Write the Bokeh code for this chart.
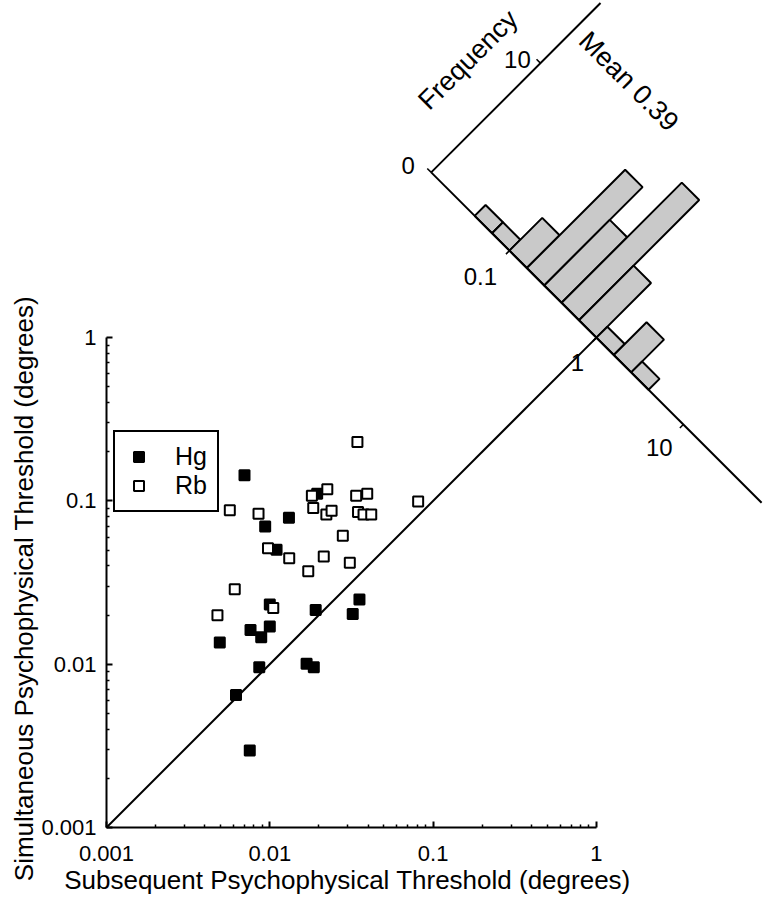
import numpy as np
from bokeh.plotting import figure
from bokeh.models import Range1d, Label, Legend, LegendItem, FixedTicker
from bokeh.embed import file_html
from bokeh.resources import INLINE

# ---------------- data ----------------
hg_x = [0.0070, 0.0195, 0.0131, 0.00937, 0.0110, 0.0354, 0.0322, 0.0191, 0.0100,
        0.00762, 0.00886, 0.0100, 0.00494, 0.00862, 0.0168, 0.0186, 0.00621, 0.00754]
hg_y = [0.1437, 0.1105, 0.0788, 0.0697, 0.0502, 0.0249, 0.0203, 0.0215, 0.0232,
        0.0162, 0.0146, 0.0170, 0.0136, 0.00958, 0.01006, 0.00958, 0.00648, 0.00296]

rb_x = [0.0344, 0.00569, 0.00853, 0.0181, 0.0225, 0.01845, 0.0222, 0.0239, 0.0338,
        0.0395, 0.0347, 0.0375, 0.0418, 0.0810, 0.0280, 0.00975, 0.01315, 0.0214,
        0.0309, 0.0172, 0.0061, 0.00478, 0.0105]
rb_y = [0.2295, 0.0877, 0.0834, 0.1076, 0.1179, 0.0905, 0.0826, 0.0870, 0.1076,
        0.1105, 0.0855, 0.0826, 0.0826, 0.0992, 0.0612, 0.0513, 0.0446, 0.0457,
        0.0418, 0.0371, 0.0288, 0.01995, 0.0221]

# histogram of log10(subsequent / simultaneous)
bin_edges = [-1.4, -1.2, -1.0, -0.8, -0.6, -0.4, -0.2, 0.0, 0.2, 0.4, 0.6]
bin_counts = [1, 1, 3, 9, 6, 11, 5, 1, 3, 1]
hist_axis_range = [-1.9, 1.9]
hist_tick_vals = [-1, 0, 1]
hist_tick_labels = ["0.1", "1", "10"]
freq_tick_vals = [0, 10]
freq_tick_labels = ["0", "10"]
freq_axis_max = 15.5
mean_label = "Mean 0.39"

axis_ticks = [0.001, 0.01, 0.1, 1]
axis_tick_labels = ["0.001", "0.01", "0.1", "1"]
minor_ticks = [m * 10.0 ** e for e in (-3, -2, -1) for m in range(2, 10)]

FONT = "Liberation Sans"

# ---------------- rotated histogram coordinate system ----------------
S = 1.065   # log-decades (x - y) per decade of ratio along histogram axis
K = 0.0669  # log-decades (each of x and y) per count along frequency axis


def hist_xy(u, c):
    lx = S * u / 2.0 + K * c
    ly = -S * u / 2.0 + K * c
    return 10.0 ** lx, 10.0 ** ly


p = figure(width=764, height=899, x_axis_type="log", y_axis_type="log",
           x_range=Range1d(10 ** -3.6491, 10 ** 1.0294),
           y_range=Range1d(10 ** -3.4409, 10 ** 2.0643),
           output_backend="svg", toolbar_location=None,
           min_border=0, min_border_left=0, min_border_right=0,
           min_border_top=0, min_border_bottom=0)
p.outline_line_color = None
p.grid.visible = False
p.background_fill_color = "white"
p.border_fill_color = "white"

for ax in (p.xaxis[0], p.yaxis[0]):
    ax.fixed_location = axis_ticks[0]
    ax.bounds = (axis_ticks[0], axis_ticks[-1])
    ax.ticker = FixedTicker(ticks=axis_ticks, minor_ticks=minor_ticks)
    ax.major_label_overrides = {t: l for t, l in zip(axis_ticks, axis_tick_labels)}
    ax.axis_line_width = 2
    ax.axis_line_color = "black"
    ax.major_tick_in = 6
    ax.major_tick_out = 0
    ax.minor_tick_in = 3
    ax.minor_tick_out = 0
    ax.major_tick_line_width = 2
    ax.minor_tick_line_width = 1.5
    ax.major_label_text_font = FONT
    ax.major_label_text_font_size = "22px"
    ax.major_label_text_color = "black"

p.xaxis[0].major_label_standoff = 18
p.yaxis[0].major_label_standoff = 10

# identity line
p.line([axis_ticks[0], axis_ticks[-1]], [axis_ticks[0], axis_ticks[-1]],
       line_color="black", line_width=2)

# histogram bars
bx, by = [], []
for i, n in enumerate(bin_counts):
    u0, u1 = bin_edges[i], bin_edges[i + 1]
    pts = [hist_xy(u0, 0), hist_xy(u0, n), hist_xy(u1, n), hist_xy(u1, 0)]
    bx.append([q[0] for q in pts])
    by.append([q[1] for q in pts])
p.patches(bx, by, fill_color="#c9c9c9", line_color="black", line_width=2)

# histogram axis
a0 = hist_xy(hist_axis_range[0], 0)
a1 = hist_xy(hist_axis_range[1], 0)
p.line([a0[0], a1[0]], [a0[1], a1[1]], line_color="black", line_width=2)
# frequency axis
f0 = hist_xy(hist_axis_range[0], 0)
f1 = hist_xy(hist_axis_range[0], freq_axis_max)
p.line([f0[0], f1[0]], [f0[1], f1[1]], line_color="black", line_width=2)

# ticks
for t in freq_tick_vals:
    q0 = hist_xy(hist_axis_range[0], t)
    q1 = hist_xy(hist_axis_range[0] - 0.045, t)
    p.line([q0[0], q1[0]], [q0[1], q1[1]], line_color="black", line_width=1.5)
for t in hist_tick_vals:
    q0 = hist_xy(t, 0)
    q1 = hist_xy(t, -0.32)
    p.line([q0[0], q1[0]], [q0[1], q1[1]], line_color="black", line_width=1.5)

# scatter
r_hg = p.scatter(hg_x, hg_y, marker="square", size=10, fill_color="black",
                 line_color="black", line_width=2)
r_rb = p.scatter(rb_x, rb_y, marker="square", size=10, fill_color="white",
                 line_color="black", line_width=2)

legend = Legend(items=[LegendItem(label="Hg", renderers=[r_hg]),
                       LegendItem(label="Rb", renderers=[r_rb])],
                location=(113, 387), border_line_color="black", border_line_width=2,
                border_line_alpha=1.0,
                padding=10, spacing=-7, glyph_width=27, glyph_height=25,
                label_standoff=23, label_text_font=FONT, label_text_font_size="25px",
                label_text_color="black",
                background_fill_color="white", background_fill_alpha=1.0)
p.add_layout(legend)

# histogram labels
freq_offsets = [(-23, 7), (-23, 4)]
for t, lab, (dx, dy) in zip(freq_tick_vals, freq_tick_labels, freq_offsets):
    hx, hy = hist_xy(hist_axis_range[0], t)
    p.add_layout(Label(x=hx, y=hy, x_offset=dx, y_offset=dy, text=lab,
                       text_align="center", text_baseline="middle",
                       text_font=FONT, text_font_size="24px", text_color="black"))
hist_offsets = [(-29, -26), (-19, -25), (-24, -23)]
for t, lab, (dx, dy) in zip(hist_tick_vals, hist_tick_labels, hist_offsets):
    hx, hy = hist_xy(t, 0)
    p.add_layout(Label(x=hx, y=hy, x_offset=dx, y_offset=dy, text=lab,
                       text_align="center", text_baseline="middle",
                       text_font=FONT, text_font_size="24px", text_color="black"))

fx, fy = hist_xy(-2.336, 6.84)
p.add_layout(Label(x=fx, y=fy, text="Frequency", angle=np.pi / 4,
                   text_align="center", text_baseline="middle",
                   text_font=FONT, text_font_size="27px", text_color="black"))
mx, my = hist_xy(-1.287, 13.21)
p.add_layout(Label(x=mx, y=my, text=mean_label, angle=-np.pi / 4,
                   text_align="center", text_baseline="middle",
                   text_font=FONT, text_font_size="27px", text_color="black"))

# axis titles
p.add_layout(Label(x=10 ** -1.5, y=axis_ticks[0], x_offset=-4, y_offset=-52,
                   text="Subsequent Psychophysical Threshold (degrees)",
                   text_align="center", text_baseline="alphabetic",
                   text_font=FONT, text_font_size="26px", text_color="black"))
p.add_layout(Label(x=axis_ticks[0], y=10 ** -1.5, x_offset=-82, y_offset=-6,
                   angle=np.pi / 2,
                   text="Simultaneous Psychophysical Threshold (degrees)",
                   text_align="center", text_baseline="alphabetic",
                   text_font=FONT, text_font_size="26px", text_color="black"))

open("out.html", "w").write(file_html(p, INLINE))
